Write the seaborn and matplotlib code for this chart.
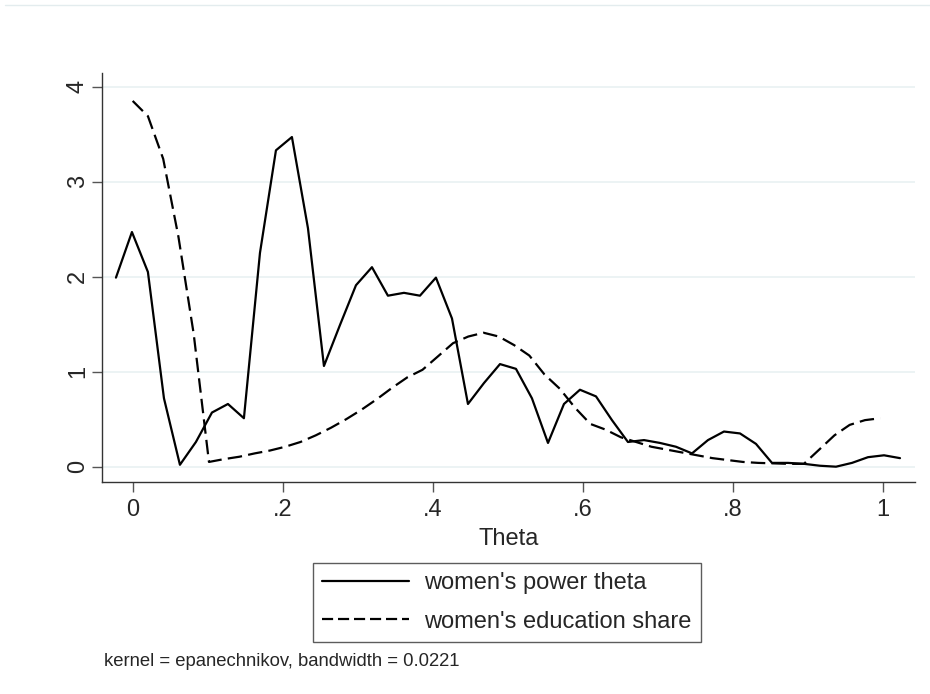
import numpy as np
import pandas as pd
import matplotlib
matplotlib.use("Agg")
import matplotlib.pyplot as plt
from matplotlib.lines import Line2D
import seaborn as sns

# Kernel density estimates (Epanechnikov kernel)
theta_grid = [-0.0223, -0.0010, 0.0203, 0.0417, 0.0630, 0.0843, 0.1057, 0.1270,
              0.1483, 0.1697, 0.1910, 0.2123, 0.2337, 0.2550, 0.2763, 0.2977,
              0.3190, 0.3403, 0.3617, 0.3830, 0.4043, 0.4257, 0.4470, 0.4683,
              0.4897, 0.5110, 0.5323, 0.5537, 0.5750, 0.5963, 0.6177, 0.6390,
              0.6603, 0.6817, 0.7030, 0.7243, 0.7457, 0.7670, 0.7883, 0.8097,
              0.8310, 0.8523, 0.8737, 0.8950, 0.9163, 0.9377, 0.9590, 0.9803,
              1.0017, 1.0230]
power_density = [1.99, 2.47, 2.05, 0.72, 0.02, 0.26, 0.57, 0.66, 0.51, 2.25,
                 3.33, 3.47, 2.51, 1.06, 1.49, 1.91, 2.10, 1.80, 1.83, 1.80,
                 1.99, 1.56, 0.66, 0.88, 1.08, 1.03, 0.72, 0.25, 0.66, 0.81,
                 0.74, 0.49, 0.26, 0.28, 0.25, 0.21, 0.14, 0.28, 0.37, 0.35,
                 0.24, 0.04, 0.04, 0.03, 0.01, 0.00, 0.04, 0.10, 0.12, 0.09]

share_grid = [0.0000, 0.0203, 0.0407, 0.0610, 0.0813, 0.1017, 0.1220, 0.1424,
              0.1627, 0.1830, 0.2034, 0.2237, 0.2441, 0.2644, 0.2847, 0.3051,
              0.3254, 0.3458, 0.3661, 0.3864, 0.4068, 0.4271, 0.4474, 0.4678,
              0.4881, 0.5085, 0.5288, 0.5491, 0.5695, 0.5898, 0.6102, 0.6305,
              0.6508, 0.6712, 0.6915, 0.7119, 0.7322, 0.7525, 0.7729, 0.7932,
              0.8136, 0.8339, 0.8542, 0.8746, 0.8949, 0.9153, 0.9356, 0.9559,
              0.9763, 0.9966]
share_density = [3.85, 3.69, 3.24, 2.42, 1.40, 0.05, 0.08, 0.105, 0.14, 0.17,
                 0.21, 0.26, 0.33, 0.41, 0.50, 0.60, 0.71, 0.83, 0.94, 1.02,
                 1.16, 1.30, 1.37, 1.41, 1.37, 1.28, 1.17, 0.97, 0.82, 0.62,
                 0.45, 0.39, 0.31, 0.26, 0.21, 0.18, 0.15, 0.12, 0.09, 0.07,
                 0.05, 0.04, 0.035, 0.03, 0.03, 0.18, 0.33, 0.44, 0.49, 0.51]

x_ticks = [0, 0.2, 0.4, 0.6, 0.8, 1.0]
x_ticklabels = ["0", ".2", ".4", ".6", ".8", "1"]
y_ticks = [0, 1, 2, 3, 4]
y_ticklabels = ["0", "1", "2", "3", "4"]

series_labels = ["women's power theta", "women's education share"]
x_title = "Theta"
note_text = "kernel = epanechnikov, bandwidth = 0.0221"

sns.set_style("white")
plt.rcParams["font.family"] = ["Liberation Sans", "DejaVu Sans"]

W, H = 930, 694
fig = plt.figure(figsize=(W / 100, H / 100), dpi=100)
ax = fig.add_axes([101.7 / W, 1 - 481.7 / H, (915 - 101.7) / W,
                   (481.7 - 73) / H])

grid_color = "#eaf2f3"
for yv in y_ticks:
    ax.axhline(yv, color=grid_color, lw=1.3, zorder=0)

power_df = pd.DataFrame({"theta": theta_grid, "density": power_density})
share_df = pd.DataFrame({"theta": share_grid, "density": share_density})

lw = 1.6
sns.lineplot(data=power_df, x="theta", y="density", ax=ax, color="black",
             lw=lw, sort=False, estimator=None)
sns.lineplot(data=share_df, x="theta", y="density", ax=ax, color="black",
             lw=lw, sort=False, estimator=None, linestyle=(0, (6.5, 2.8)))

ax.set_xlim(-0.0413, 1.043)
ax.set_ylim(-0.158, 4.144)

ax.set_xticks(x_ticks)
ax.set_xticklabels(x_ticklabels)
ax.set_yticks(y_ticks)
ax.set_yticklabels(y_ticklabels, rotation=90, va="center")

ax.tick_params(axis="both", which="major", direction="out", length=7.2,
               width=1.0, color="#555555", labelsize=17,
               left=True, bottom=True)
ax.tick_params(axis="x", pad=5)
ax.tick_params(axis="y", pad=2)

for side in ["top", "right"]:
    ax.spines[side].set_visible(False)
for side in ["left", "bottom"]:
    ax.spines[side].set_color("#333333")
    ax.spines[side].set_linewidth(1.0)

ax.set_xlabel(x_title, fontsize=17, labelpad=5)
ax.set_ylabel("")

handles = [Line2D([0], [0], color="black", lw=lw),
           Line2D([0], [0], color="black", lw=lw, linestyle=(0, (5.0, 2.2)))]
leg = fig.legend(handles, series_labels, loc="upper left",
                 bbox_to_anchor=(313 / W, 1 - 563 / H),
                 bbox_transform=fig.transFigure,
                 fontsize=17, frameon=True, fancybox=False, shadow=False,
                 handlelength=3.67, handletextpad=0.62, borderpad=0.4,
                 labelspacing=0.68, borderaxespad=0)
leg.get_frame().set_edgecolor("#333333")
leg.get_frame().set_linewidth(1.0)

fig.text(104 / W, 1 - 661 / H, note_text, fontsize=13.3, va="center",
         ha="left")

# faint outer border line along the top
fig.add_artist(Line2D([5 / W, 1.0], [1 - 4.5 / H, 1 - 4.5 / H],
                      transform=fig.transFigure, color="#e3ecee", lw=1.0))

fig.savefig("out.png", dpi=100, facecolor="white")
